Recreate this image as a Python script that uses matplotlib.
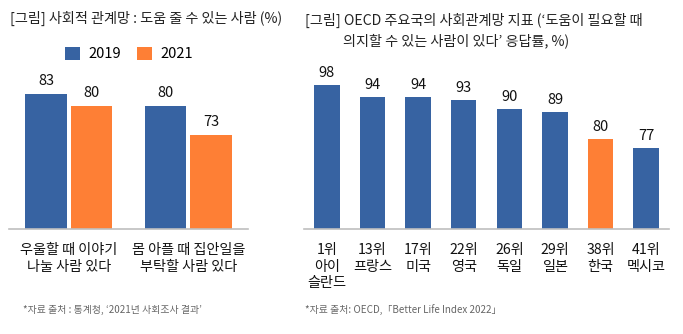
import numpy as np
import matplotlib
matplotlib.use("Agg")
import matplotlib.pyplot as plt

plt.rcParams['font.family'] = ['Noto Sans CJK KR', 'DejaVu Sans']

#-----------------data----------------
left_cats = ['우울할 때 이야기\n나눌 사람 있다', '몸 아플 때 집안일을\n부탁할 사람 있다']
years = ['2019', '2021']
vals_2019 = [83, 80]
vals_2021 = [80, 73]

countries = ['1위\n아이\n슬란드', '13위\n프랑스', '17위\n미국', '22위\n영국',
             '26위\n독일', '29위\n일본', '38위\n한국', '41위\n멕시코']
country_vals = [98, 94, 94, 93, 90, 89, 80, 77]
highlight = '38위\n한국'
#-------------------------------------

BLUE = '#3763a2'
ORANGE = '#fe7f35'
GRAY = '#bfbfbf'
W, H = 683, 334

fig = plt.figure(figsize=(W / 100, H / 100), dpi=100)

def px_axes(x0, x1, ytop, ybot):
    return fig.add_axes([x0 / W, 1 - ybot / H, (x1 - x0) / W, (ybot - ytop) / H])

def style(ax):
    for s in ['top', 'right', 'left']:
        ax.spines[s].set_visible(False)
    ax.spines['bottom'].set_color(GRAY)
    ax.spines['bottom'].set_linewidth(1.2)
    ax.set_yticks([])
    ax.tick_params(axis='x', length=0, pad=10, labelsize=10.2, labelcolor='#111111')

#-----------left chart------------
ax1 = px_axes(9, 248, 70, 229)
x = np.arange(len(left_cats))
off, bw = 0.19, 0.35
b1 = ax1.bar(x - off, vals_2019, bw, color=BLUE, label=years[0])
b2 = ax1.bar(x + off, vals_2021, bw, color=ORANGE, label=years[1])
for bars in (b1, b2):
    for r in bars:
        ax1.text(r.get_x() + r.get_width() / 2, r.get_height() + 1.4, str(int(r.get_height())),
                 ha='center', va='bottom', fontsize=10.5, color='#111111')
ax1.set_xlim(-0.5, 1.5)
ax1.set_ylim(50, 88.8)
ax1.set_xticks(x)
ax1.set_xticklabels(left_cats, linespacing=1.25)
style(ax1)
ax1.legend(loc='center', bbox_to_anchor=(129 / W, 1 - 54 / H), bbox_transform=fig.transFigure,
           ncol=2, frameon=False, fontsize=10.5, handlelength=1.0, handleheight=1.0,
           columnspacing=1.1, handletextpad=0.6)

#-----------right chart------------
ax2 = px_axes(304, 669, 70, 229)
xs = np.arange(len(countries))
cols = [ORANGE if c == highlight else BLUE for c in countries]
bars = ax2.bar(xs, country_vals, 0.56, color=cols)
for r in bars:
    ax2.text(r.get_x() + r.get_width() / 2, r.get_height() + 1.8, str(int(r.get_height())),
             ha='center', va='bottom', fontsize=10.5, color='#111111')
ax2.set_xlim(-0.5, 7.5)
ax2.set_ylim(50, 103)
ax2.set_xticks(xs)
ax2.set_xticklabels(countries, linespacing=1.25)
style(ax2)

#-----------titles & notes------------
fig.text(10 / W, 1 - 18 / H, '[그림] 사회적 관계망 : 도움 줄 수 있는 사람 (%)',
         ha='left', va='center', fontsize=10.2, color='#222222')
fig.text(305 / W, 1 - 20 / H, '[그림] OECD 주요국의 사회관계망 지표 (‘도움이 필요할 때',
         ha='left', va='center', fontsize=10.2, color='#222222')
fig.text(343 / W, 1 - 41 / H, '의지할 수 있는 사람이 있다’ 응답률, %)',
         ha='left', va='center', fontsize=10.2, color='#222222')
fig.text(23 / W, 1 - 310 / H, '*자료 출처 : 통계청, ‘2021년 사회조사 결과’',
         ha='left', va='center', fontsize=7.1, color='#666666')
fig.text(305 / W, 1 - 310 / H, '*자료 출처: OECD,「Better Life Index 2022」',
         ha='left', va='center', fontsize=7.1, color='#666666')

fig.savefig('out.png', dpi=100)
